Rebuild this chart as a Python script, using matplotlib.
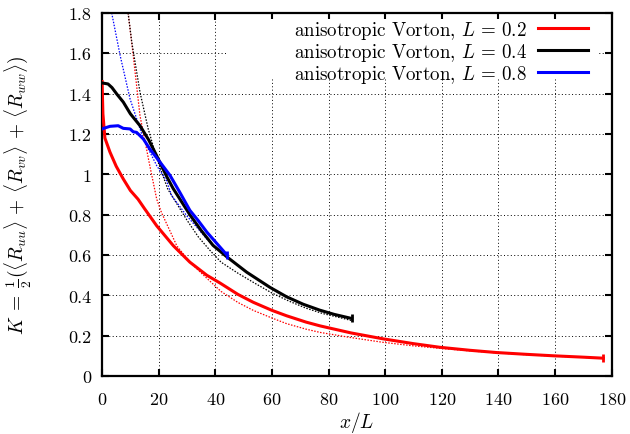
import matplotlib
matplotlib.use("Agg")
import matplotlib.pyplot as plt
from matplotlib.patches import Rectangle
from matplotlib.ticker import FuncFormatter

plt.rcParams["font.family"] = "serif"
plt.rcParams["font.serif"] = ["cmr10", "DejaVu Serif"]
plt.rcParams["mathtext.fontset"] = "cm"
plt.rcParams["axes.formatter.use_mathtext"] = True

# simulated decay, L = 0.2 / 0.4 / 0.8
x_02 = [0, 0.3, 1.0, 2.8, 5.0, 7.5, 10, 12.7, 15, 19.3, 25.2, 31, 37, 41.6, 48, 53.4, 60, 65.2,
        72, 77, 88, 99.2, 110, 119.3, 130, 139.3, 150, 159.2, 170, 177]
k_02 = [1.46, 1.30, 1.18, 1.11, 1.04, 0.977, 0.92, 0.877, 0.83, 0.745, 0.646, 0.565, 0.50,
        0.462, 0.405, 0.366, 0.326, 0.299, 0.268, 0.249, 0.214, 0.185, 0.161, 0.143, 0.128,
        0.117, 0.108, 0.101, 0.094, 0.089]

x_04 = [0, 2.1, 3.5, 5.2, 7.5, 10, 13.4, 16.5, 19.3, 22.8, 25.1, 31, 35, 39.2, 44, 51.1, 59.3,
        65.2, 71.1, 76.9, 82, 88.1]
k_04 = [1.453, 1.448, 1.43, 1.398, 1.358, 1.30, 1.241, 1.17, 1.092, 0.99, 0.93, 0.80,
        0.722, 0.648, 0.592, 0.515, 0.44, 0.393, 0.356, 0.327, 0.306, 0.286]

x_08 = [0, 1.0, 2.8, 5.7, 7.5, 9.9, 11.0, 12.2, 14.6, 16.9, 20.5, 24.0, 27.5, 31, 34, 37,
        40.5, 44]
k_08 = [1.225, 1.23, 1.238, 1.241, 1.228, 1.225, 1.211, 1.208, 1.175, 1.125, 1.06, 0.995,
        0.91, 0.822, 0.77, 0.714, 0.658, 0.602]

# fitted power laws (dotted)
fx_02 = [9.2, 11.0, 13.4, 16.9, 19.3, 21, 26.4, 31, 37, 42, 48, 53.4, 60, 65.2, 72, 76.9, 87.5,
         99, 110, 120, 130, 140, 150, 160, 170, 177]
fk_02 = [1.8, 1.59, 1.29, 1.04, 0.877, 0.81, 0.646, 0.565, 0.485, 0.42, 0.365, 0.326, 0.288,
         0.26, 0.233, 0.217, 0.192, 0.168, 0.150, 0.137, 0.125, 0.115, 0.106, 0.099, 0.093,
         0.088]

fx_04 = [9.2, 10.5, 13.4, 16.3, 19.3, 23.2, 29.9, 34, 38, 42, 48, 54, 60, 66, 72, 78, 84, 88]
fk_04 = [1.8, 1.655, 1.407, 1.225, 1.08, 0.927, 0.775, 0.69, 0.625, 0.565, 0.51, 0.46, 0.412,
         0.372, 0.337, 0.31, 0.29, 0.276]

fx_08 = [3.4, 6.4, 9.9, 14.6, 19.3, 22.8, 24.6, 29.9, 37, 42.8, 44]
fk_08 = [1.8, 1.588, 1.373, 1.175, 1.043, 0.968, 0.894, 0.795, 0.68, 0.605, 0.59]

labels = [r"anisotropic Vorton, $L\,=\,0.2$",
          r"anisotropic Vorton, $L\,=\,0.4$",
          r"anisotropic Vorton, $L\,=\,0.8$"]
colors = ["#ff0000", "#000000", "#0000ff"]

fig = plt.figure(figsize=(6.3, 4.35), dpi=100)
ax = fig.add_axes([0.162, 0.133, 0.809, 0.835])

ax.set_axisbelow(True)
ax.grid(True, color="black", linestyle=(0, (1, 2.5)), linewidth=0.7)

# opaque key box hides the grid behind it
ax.add_patch(Rectangle((0.247, 0.818), 0.729, 0.165, transform=ax.transAxes,
                       facecolor="white", edgecolor="none", zorder=1))

series = [(x_02, k_02, fx_02, fk_02), (x_04, k_04, fx_04, fk_04), (x_08, k_08, fx_08, fk_08)]
for (xs, ks, fxs, fks), lab, c in zip(series, labels, colors):
    ax.plot(fxs, fks, color=c, linestyle=(0, (1.2, 1.2)), linewidth=0.9, zorder=2)
    ax.plot(xs, ks, color=c, linewidth=2.2, label=lab, zorder=3,
            marker="|", markevery=[len(xs) - 1], markersize=6, markeredgewidth=2)

ax.set_xlim(0, 180)
ax.set_ylim(0, 1.8)
ax.set_xticks(range(0, 181, 20))
ax.set_yticks([i * 0.2 for i in range(10)])
ax.yaxis.set_major_formatter(FuncFormatter(lambda v, p: "%g" % round(v, 2)))
ax.tick_params(direction="in", length=5, width=1.5, top=True, right=True, labelsize=13)
ax.tick_params(axis="x", pad=11)
ax.tick_params(axis="y", pad=8)
for s in ax.spines.values():
    s.set_linewidth(1.6)

ax.set_xlabel(r"$x/L$", fontsize=14, labelpad=1)
ax.set_ylabel(r"$K\;=\;\frac{1}{2}(\langle R_{uu}\rangle\,+\,\langle R_{vv}\rangle\,+\,\langle R_{ww}\rangle)$",
              fontsize=14, labelpad=24)

leg = ax.legend(loc="upper right", frameon=False, markerfirst=False, fontsize=13.7,
                handlelength=2.6, handletextpad=0.6, labelspacing=0.0,
                bbox_to_anchor=(0.975, 1.015), borderaxespad=0.2)
for h in leg.legend_handles:
    h.set_marker("")

fig.savefig("out.png", dpi=100)
